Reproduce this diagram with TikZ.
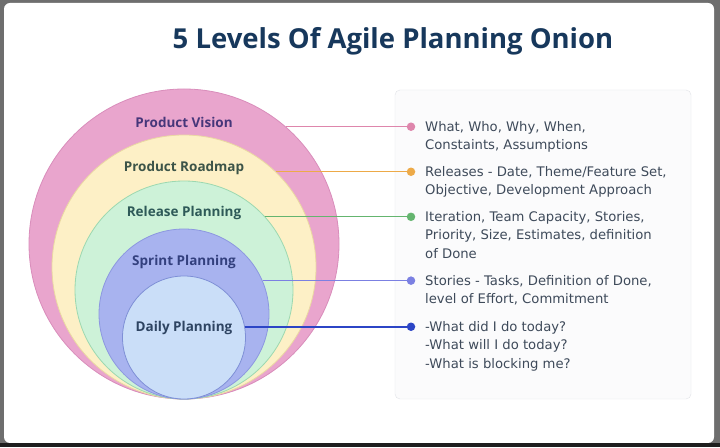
\documentclass[tikz,border=0pt]{standalone}
\usepackage{fontspec}
\setmainfont{Open Sans}
\newfontfamily\infofont{DejaVu Sans}
\usetikzlibrary{positioning}

\definecolor{framegray}{HTML}{6E6E6E}
\definecolor{framedark}{HTML}{1E1E1E}
\definecolor{titleblue}{HTML}{17385C}
\definecolor{infotext}{HTML}{3E4A5A}
\definecolor{boxfill}{HTML}{FBFBFC}
\definecolor{boxline}{HTML}{E2E4E8}
\definecolor{visionfill}{HTML}{E9A5CD}
\definecolor{visionline}{HTML}{D98DBB}
\definecolor{visiontext}{HTML}{46367A}
\definecolor{visionlink}{HTML}{DE86AC}
\definecolor{roadmapfill}{HTML}{FDF0C6}
\definecolor{roadmapline}{HTML}{EAD8A2}
\definecolor{roadmaptext}{HTML}{3C5448}
\definecolor{roadmaplink}{HTML}{EDAA48}
\definecolor{releasefill}{HTML}{CDF2D8}
\definecolor{releaseline}{HTML}{9CD8B0}
\definecolor{releasetext}{HTML}{2E5A58}
\definecolor{releaselink}{HTML}{64B56F}
\definecolor{sprintfill}{HTML}{A8B3EF}
\definecolor{sprintline}{HTML}{8C97E0}
\definecolor{sprinttext}{HTML}{33407E}
\definecolor{sprintlink}{HTML}{7B80E2}
\definecolor{dailyfill}{HTML}{CADEF8}
\definecolor{dailyline}{HTML}{7E8FD6}
\definecolor{dailytext}{HTML}{2E4462}
\definecolor{dailylink}{HTML}{2C45C6}

\begin{document}
\begin{tikzpicture}[
    x=1pt, y=1pt,
    layer node/.style={circle,draw,line width=0.8pt,inner sep=0pt},
    layer label/.style={font=\fontsize{13.5}{16}\selectfont\bfseries},
    link/.style={line width=1.4pt},
    dot node/.style={circle,inner sep=0pt,minimum size=8.5pt},
    info node/.style={anchor=north west,align=left,inner sep=0pt,text=infotext,
      font=\infofont\fontsize{13.2}{18.6}\selectfont}]

  \useasboundingbox (0,0) rectangle (720,447);
  \fill[framegray] (0,0) rectangle (720,447);
  \fill[framedark] (0,0) rectangle (720,4);
  \fill[white,rounded corners=6pt] (4,4) rectangle (714,444);

  \node[font=\fontsize{27.5}{30}\selectfont\bfseries,text=titleblue] (title) at (393,406) {5 Levels Of Agile Planning Onion};

  % the onion
  \node[layer node,fill=visionfill,draw=visionline,minimum size=310pt] (vision) at (184,203) {};
  \node[layer node,fill=roadmapfill,draw=roadmapline,minimum size=264pt] (roadmap) at (184,180) {};
  \node[layer node,fill=releasefill,draw=releaseline,minimum size=218pt] (release) at (184,157) {};
  \node[layer node,fill=sprintfill,draw=sprintline,minimum size=170pt] (sprint) at (184,133) {};
  \node[layer node,fill=dailyfill,draw=dailyline,minimum size=123pt] (daily) at (184,109.5) {};

  \node[layer label,text=visiontext] (visionlabel) at ([yshift=-34pt]vision.north) {Product Vision};
  \node[layer label,text=roadmaptext] (roadmaplabel) at ([yshift=-33pt]roadmap.north) {Product Roadmap};
  \node[layer label,text=releasetext] (releaselabel) at ([yshift=-32pt]release.north) {Release Planning};
  \node[layer label,text=sprinttext] (sprintlabel) at ([yshift=-33pt]sprint.north) {Sprint Planning};
  \node[layer label,text=dailytext] (dailylabel) at ([yshift=-52pt]daily.north) {Daily Planning};

  % the notes
  \node[draw=boxline,fill=boxfill,rounded corners=5pt,minimum width=296pt,minimum height=309pt] (infobox) at (543,202.5) {};

  \coordinate (dotcol) at (411,0);
  \node[dot node,fill=visionlink] (visiondot) at (vision.49.4 -| dotcol) {};
  \node[dot node,fill=roadmaplink] (roadmapdot) at (roadmap.46 -| dotcol) {};
  \node[dot node,fill=releaselink] (releasedot) at (release.42 -| dotcol) {};
  \node[dot node,fill=sprintlink] (sprintdot) at (sprint.23 -| dotcol) {};
  \node[dot node,fill=dailylink] (dailydot) at (daily.10 -| dotcol) {};

  \draw[link,visionlink] (vision.49.4) -- (visiondot);
  \draw[link,roadmaplink] (roadmap.46) -- (roadmapdot);
  \draw[link,releaselink] (release.42) -- (releasedot);
  \draw[link,sprintlink] (sprint.23) -- (sprintdot);
  \draw[link,dailylink,line width=2pt] (daily.10) -- (dailydot);

  \node[info node] (visiontext) at ([xshift=14pt,yshift=5.7pt]visiondot.center)
    {What, Who, Why, When,\\Constaints, Assumptions};
  \node[info node] (roadmaptext) at ([xshift=14pt,yshift=5.7pt]roadmapdot.center)
    {Releases - Date, Theme/Feature Set,\\Objective, Development Approach};
  \node[info node] (releasetext) at ([xshift=14pt,yshift=5.7pt]releasedot.center)
    {Iteration, Team Capacity, Stories,\\Priority, Size, Estimates, definition\\of Done};
  \node[info node] (sprinttext) at ([xshift=14pt,yshift=5.7pt]sprintdot.center)
    {Stories - Tasks, Definition of Done,\\level of Effort, Commitment};
  \node[info node] (dailytext) at ([xshift=14pt,yshift=5.7pt]dailydot.center)
    {-What did I do today?\\-What will I do today?\\-What is blocking me?};
\end{tikzpicture}
\end{document}
